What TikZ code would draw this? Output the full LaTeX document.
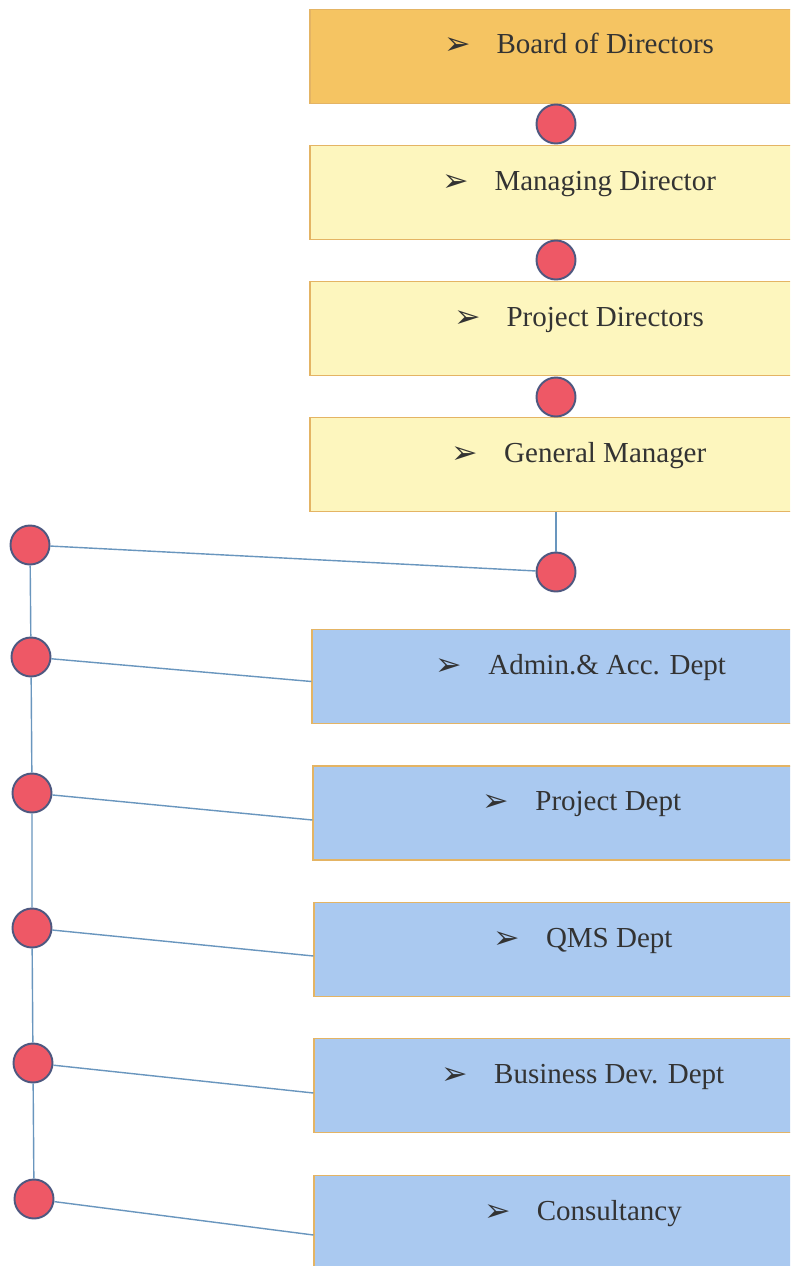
\documentclass[tikz,border=0pt]{standalone}
\usepackage{fontspec}
\setmainfont{Liberation Serif}
\newfontfamily\dejavu{DejaVu Sans}
\newcommand{\arrowbul}{\raisebox{-0.2mm}{\dejavu\fontsize{18}{18}\selectfont ➢}\hspace{5.2mm}}
\definecolor{boardfill}{RGB}{245,196,98}
\definecolor{mgmtfill}{RGB}{253,246,190}
\definecolor{deptfill}{RGB}{170,201,240}
\definecolor{boxline}{RGB}{228,180,100}
\definecolor{dotfill}{RGB}{238,88,102}
\definecolor{dotline}{RGB}{78,88,128}
\definecolor{linkline}{RGB}{105,150,190}
\begin{document}
\begin{tikzpicture}[x=0.2mm, y=-0.2mm]
    % Node styles
    \tikzstyle{box} = [draw=boxline, line width=0.6pt, minimum width=107.6mm, minimum height=18.8mm,
        text height=3mm, text depth=4mm, font=\fontsize{16.5}{18}\selectfont, text=black!80]
    \tikzstyle{dot} = [circle, draw=dotline, line width=1.1pt, fill=dotfill, minimum size=7.8mm, inner sep=0pt]
    \tikzstyle{link} = [draw=linkline, line width=0.8pt]

    \clip (0,0) rectangle (790,1266);
    \fill[white] (0,0) rectangle (790,1266);

    % Nodes
    % top management
    \node[box, fill=boardfill] (bod) at (579, 56.5) {\arrowbul Board of Directors};
    \node[box, fill=mgmtfill] (md) at (579, 192.5) {\arrowbul Managing Director};
    \node[box, fill=mgmtfill] (pd) at (579, 328.5) {\arrowbul Project Directors};
    \node[box, fill=mgmtfill] (gm) at (579, 464.5) {\arrowbul General Manager};

    % departments
    \node[box, fill=deptfill] (admin) at (581, 676.5) {\arrowbul Admin.\& Acc. Dept};
    \node[box, fill=deptfill] (proj) at (582, 813) {\arrowbul Project Dept};
    \node[box, fill=deptfill] (qms) at (583, 949.5) {\arrowbul QMS Dept};
    \node[box, fill=deptfill] (bus) at (583, 1085.5) {\arrowbul Business Dev. Dept};
    \node[box, fill=deptfill] (cons) at (583, 1222.5) {\arrowbul Consultancy};

    % dots between boxes
    \node[dot] (d1) at (556, 124) {};
    \node[dot] (d2) at (556, 260) {};
    \node[dot] (d3) at (556, 397) {};
    \node[dot] (gmdot) at (556, 572) {};

    % dots on the left
    \node[dot] (l0) at (30, 545) {};
    \node[dot] (l1) at (31, 657) {};
    \node[dot] (l2) at (32, 793) {};
    \node[dot] (l3) at (32, 928) {};
    \node[dot] (l4) at (33, 1063) {};
    \node[dot] (l5) at (34, 1199) {};

    % Edges
    \draw[link] (gmdot |- gm.south) -- (gmdot);
    \draw[link] (l0) -- (gmdot);

    \draw[link] (l0) -- (l1) -- (l2) -- (l3) -- (l4) -- (l5);

    \draw[link] (l1) -- ([yshift=-1mm]admin.west);
    \draw[link] (l2) -- ([yshift=-1.4mm]proj.west);
    \draw[link] (l3) -- ([yshift=-1.3mm]qms.west);
    \draw[link] (l4) -- ([yshift=-1.5mm]bus.west);
    \draw[link] (l5) -- ([yshift=-2.5mm]cons.west);

\end{tikzpicture}
\end{document}
